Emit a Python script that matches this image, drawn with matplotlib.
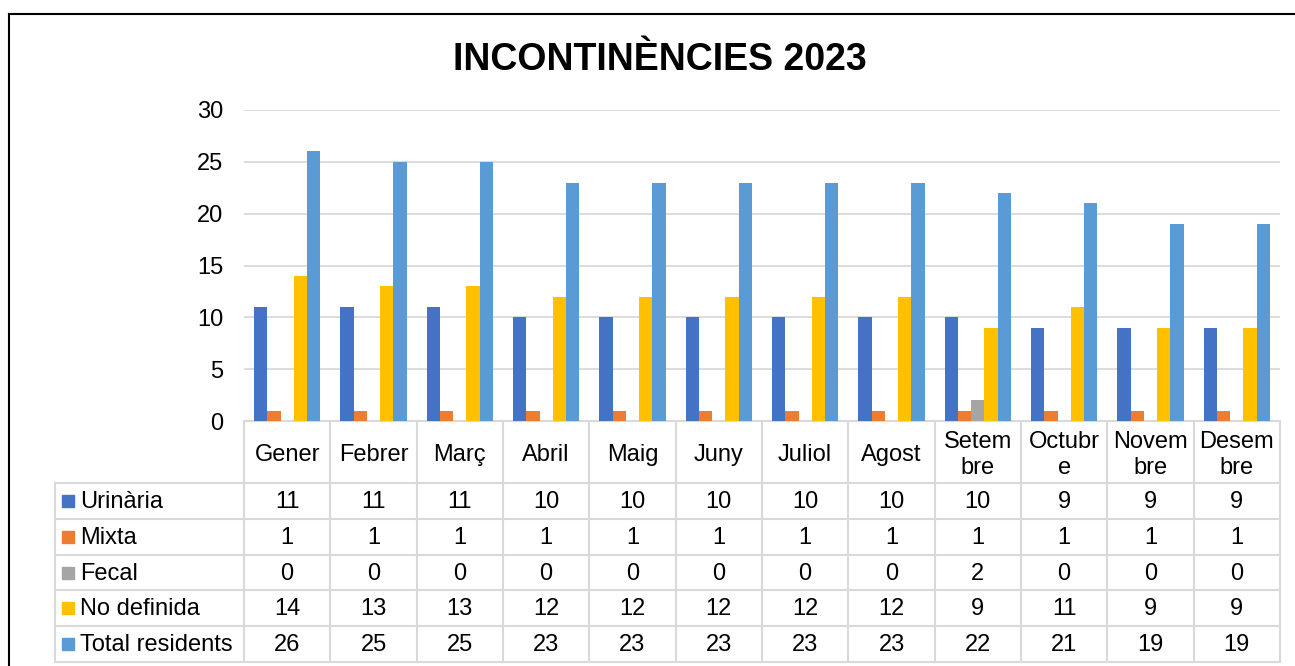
import matplotlib

matplotlib.use("Agg")

import matplotlib.pyplot as plt  # noqa: E402
import numpy as np  # noqa: E402
from matplotlib.lines import Line2D  # noqa: E402
from matplotlib.transforms import blended_transform_factory  # noqa: E402

plt.rcParams["font.family"] = ["Liberation Sans", "DejaVu Sans"]

TITLE = "INCONTINÈNCIES 2023"
months = ["Gener", "Febrer", "Març", "Abril", "Maig", "Juny", "Juliol", "Agost",
          "Setem\nbre", "Octubr\ne", "Novem\nbre", "Desem\nbre"]
series_names = ["Urinària", "Mixta", "Fecal", "No definida", "Total residents"]
urinaria = [11, 11, 11, 10, 10, 10, 10, 10, 10, 9, 9, 9]
mixta = [1, 1, 1, 1, 1, 1, 1, 1, 1, 1, 1, 1]
fecal = [0, 0, 0, 0, 0, 0, 0, 0, 2, 0, 0, 0]
no_definida = [14, 13, 13, 12, 12, 12, 12, 12, 9, 11, 9, 9]
total = [26, 25, 25, 23, 23, 23, 23, 23, 22, 21, 19, 19]
yticks = [0, 5, 10, 15, 20, 25, 30]

_COLORS = ["#4472C4", "#ED7D31", "#A5A5A5", "#FFC000", "#5B9BD5"]
_GRID = "#d9d9d9"

W, H = 1295, 666
fig = plt.figure(figsize=(W / 100, H / 100), dpi=100)

# plot area in pixels (left, right, top, bottom)
pl, pr, pt, pb = 244, 1280, 110, 421
ax = fig.add_axes([pl / W, 1 - pb / H, (pr - pl) / W, (pb - pt) / H])

series = [urinaria, mixta, fecal, no_definida, total]
n = len(months)
xs = np.arange(n)
bw = 0.154
for k, (vals, col) in enumerate(zip(series, _COLORS)):
    ax.bar(xs + (k - 2) * bw, vals, width=bw, color=col, zorder=3)

ax.set_xlim(-0.5, n - 0.5)
ax.set_ylim(0, 30)
ax.set_yticks(yticks)
ax.set_yticklabels([str(t) for t in yticks], fontsize=17)
ax.tick_params(axis="y", length=0, pad=15)
ax.set_xticks([])
ax.grid(True, axis="y", color=_GRID, lw=1.3, zorder=0)
for s in ax.spines.values():
    s.set_visible(False)

# --- data table below the plot -------------------------------------------
ph = pb - pt
cat_px = (pr - pl) / n
trans = blended_transform_factory(ax.transData, ax.transAxes)


def ypx(y):
    return (pb - y) / ph


def xpx(x):
    return -0.5 + (x - pl) / cat_px


header_bot = 483
row_h = 35.8
label_left = xpx(55)
rows_y = [header_bot + i * row_h for i in range(len(series) + 1)]

line_kw = dict(color=_GRID, lw=1.5, transform=trans, clip_on=False, zorder=1)
ax.add_line(Line2D([-0.5, n - 0.5], [0, 0], **line_kw))
for y in rows_y:
    ax.add_line(Line2D([label_left, n - 0.5], [ypx(y), ypx(y)], **line_kw))
for i in range(n + 1):
    ax.add_line(Line2D([i - 0.5, i - 0.5], [0, ypx(rows_y[-1])], **line_kw))
ax.add_line(Line2D([label_left, label_left], [ypx(header_bot), ypx(rows_y[-1])], **line_kw))

for i, m in enumerate(months):
    ax.text(i, ypx((pb + header_bot) / 2 + 3), m, transform=trans, ha="center",
            va="center", fontsize=17, linespacing=1.2, clip_on=False)

for r, (name, vals, col) in enumerate(zip(series_names, series, _COLORS)):
    yc = ypx(rows_y[r] + row_h / 2 + 1)
    ax.plot([xpx(68)], [ypx(rows_y[r] + row_h / 2)], marker="s", ms=9, color=col,
            transform=trans, clip_on=False, ls="none")
    ax.text(xpx(80), yc, name, transform=trans, ha="left", va="center",
            fontsize=17, clip_on=False)
    for i, v in enumerate(vals):
        ax.text(i, yc, str(v), transform=trans, ha="center", va="center",
                fontsize=17, clip_on=False)

fig.text(660 / W, 1 - 60 / H, TITLE, ha="center", va="center",
         fontsize=27, fontweight="bold")

# chart border (top and left edges visible in crop)
fig.add_artist(Line2D([9 / W, 9 / W], [0, 1 - 14 / H], color="black", lw=1.5,
                      transform=fig.transFigure))
fig.add_artist(Line2D([9 / W, 1], [1 - 14 / H, 1 - 14 / H], color="black", lw=1.5,
                      transform=fig.transFigure))

fig.savefig("out.png", dpi=100, facecolor="white")
